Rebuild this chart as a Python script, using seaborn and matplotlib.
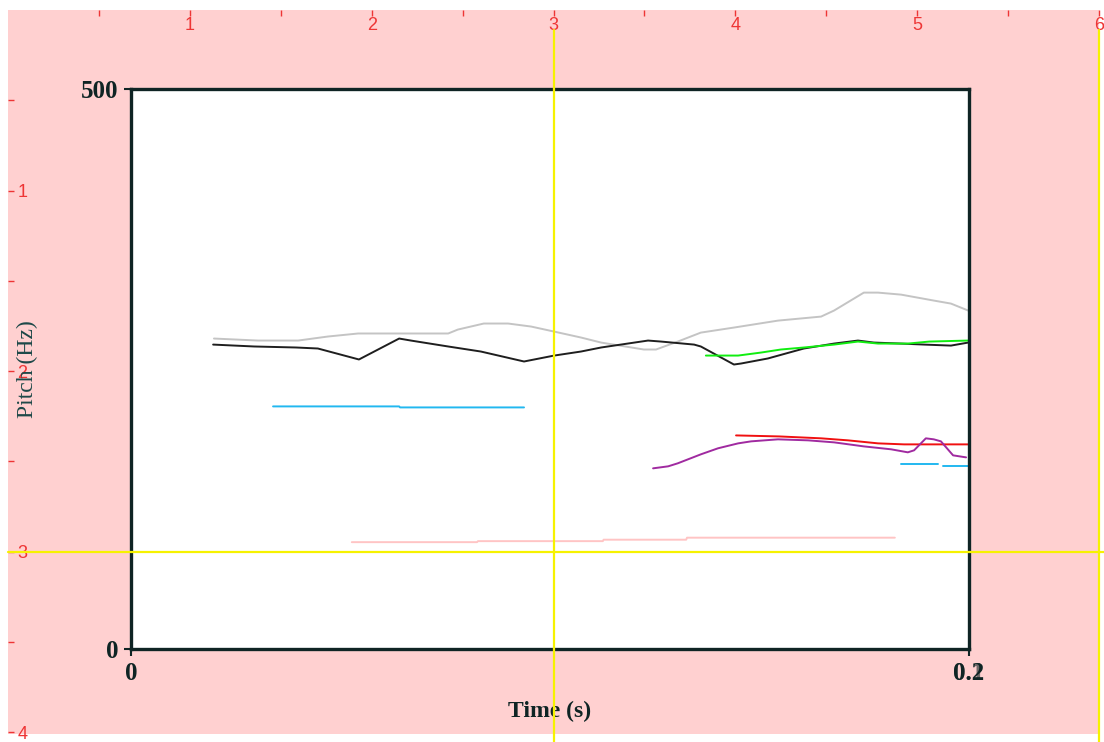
import numpy as np
import pandas as pd
import matplotlib
matplotlib.use("Agg")
import matplotlib.pyplot as plt
from matplotlib.lines import Line2D
import seaborn as sns

# ---------------- data ----------------
gray_t = [0.0198, 0.0303, 0.0399, 0.0470, 0.0542, 0.0757, 0.0780, 0.0842, 0.0900, 0.0955,
          0.1010, 0.1074, 0.1122, 0.1224, 0.1253, 0.1305, 0.1360, 0.1439, 0.1544, 0.1647,
          0.1678, 0.1749, 0.1783, 0.1838, 0.1916, 0.1957, 0.1998]
gray_hz = [277.2, 275.4, 275.4, 279.0, 281.7, 281.7, 285.2, 290.6, 290.6, 287.9,
           283.4, 278.1, 273.6, 267.4, 267.4, 274.5, 282.5, 287.0, 293.2, 296.8,
           302.2, 318.2, 318.2, 316.4, 311.1, 308.4, 302.2]

black_t = [0.0196, 0.0294, 0.0394, 0.0446, 0.0544, 0.0640, 0.0668, 0.0757, 0.0835, 0.0938,
           0.1010, 0.1074, 0.1122, 0.1234, 0.1265, 0.1344, 0.1360, 0.1439, 0.1456, 0.1520,
           0.1606, 0.1678, 0.1735, 0.1773, 0.1838, 0.1893, 0.1957, 0.1998]
black_hz = [271.8, 270.1, 269.2, 268.3, 258.5, 277.2, 275.4, 270.1, 265.6, 256.7,
            262.0, 265.6, 269.2, 275.4, 274.5, 271.8, 270.1, 254.0, 254.9, 259.4,
            268.3, 272.7, 275.4, 273.6, 272.7, 271.8, 270.9, 273.6]

green_t = [0.1372, 0.1449, 0.1504, 0.1551, 0.1606, 0.1678, 0.1735, 0.1783, 0.1854, 0.1905, 0.1998]
green_hz = [262.0, 262.0, 264.7, 267.4, 269.2, 271.8, 274.5, 272.7, 272.7, 274.5, 275.4]

red_t = [0.1444, 0.1547, 0.1647, 0.1711, 0.1783, 0.1845, 0.1998]
red_hz = [190.7, 189.8, 188.1, 186.3, 183.6, 182.7, 182.7]

purple_t = [0.1246, 0.1282, 0.1305, 0.1360, 0.1401, 0.1449, 0.1480, 0.1544, 0.1616, 0.1678,
            0.1749, 0.1814, 0.1854, 0.1869, 0.1897, 0.1916, 0.1933, 0.1962, 0.1993]
purple_hz = [161.3, 163.1, 165.8, 173.8, 179.2, 183.6, 185.4, 187.2, 186.3, 184.5,
             180.9, 178.3, 175.6, 177.4, 188.1, 187.2, 185.4, 172.9, 171.1]

cyan1_t = [0.0339, 0.0640, 0.0642, 0.0938]
cyan1_hz = [216.6, 216.6, 215.7, 215.7]
cyan2_t = [0.1838, 0.1926]
cyan2_hz = [164.9, 164.9]
cyan3_t = [0.1938, 0.1998]
cyan3_hz = [163.1, 163.1]

pink_t = [0.0527, 0.0826, 0.0828, 0.1126, 0.1128, 0.1325, 0.1327, 0.1823]
pink_hz = [95.4, 95.4, 96.3, 96.3, 97.6, 97.6, 99.4, 99.4]

x_ticks = [0, 0.2]
x_ticklabels = ["0", "0.2"]
y_ticks = [0, 500]
y_ticklabels = ["0", "500"]

ruler_x_major = [1, 2, 3, 4, 5, 6]
ruler_x_minor = [0.5, 1.5, 2.5, 3.5, 4.5, 5.5]
ruler_y_major = [1, 2, 3, 4]
ruler_y_minor = [0.5, 1.5, 2.5, 3.5]
cross_x = [3, 6]
cross_y = 3

tracks = {
    "gray": (gray_t, gray_hz), "black": (black_t, black_hz), "green": (green_t, green_hz),
    "red": (red_t, red_hz), "purple": (purple_t, purple_hz), "cyan1": (cyan1_t, cyan1_hz),
    "cyan2": (cyan2_t, cyan2_hz), "cyan3": (cyan3_t, cyan3_hz), "pink": (pink_t, pink_hz),
}
palette = {"gray": "#c4c4c4", "black": "#1e1e1e", "green": "#10ee10", "red": "#f01010",
           "purple": "#a02aa0", "cyan1": "#22b8f0", "cyan2": "#22b8f0", "cyan3": "#22b8f0",
           "pink": "#ffc4c4"}

rows = []
for name, (ts, hs) in tracks.items():
    for t, h in zip(ts, hs):
        rows.append({"track": name, "t": t, "hz": h})
df = pd.DataFrame(rows)

# ---------------- style ----------------
sns.set_style("white")
plt.rcParams["font.family"] = ["Liberation Serif", "DejaVu Serif"]

W, H = 1104, 742
fig = plt.figure(figsize=(W / 100, H / 100), dpi=100)
fig.patch.set_facecolor("white")

RED = "#ee3535"
DARK = "#0f2424"

# background "ruler" axes
bg_l, bg_r, bg_t, bg_b = 8, 1099, 10, 734
ax_bg = fig.add_axes([bg_l / W, (H - bg_b) / H, (bg_r - bg_l) / W, (bg_b - bg_t) / H])
ax_bg.set_facecolor("#ffd0d0")
ax_bg.set_xlim(0, 6.0)
ax_bg.set_ylim(4.01, 0)
for s in ax_bg.spines.values():
    s.set_visible(False)
ax_bg.set_xticks(ruler_x_major)
ax_bg.set_xticks(ruler_x_minor, minor=True)
ax_bg.set_yticks(ruler_y_major)
ax_bg.set_yticks(ruler_y_minor, minor=True)
ax_bg.set_xticklabels([str(v) for v in ruler_x_major], fontfamily="Liberation Sans", fontsize=13)
ax_bg.set_yticklabels([str(v) for v in ruler_y_major], fontfamily="Liberation Sans", fontsize=13)
ax_bg.tick_params(axis="x", which="both", top=True, bottom=False, labeltop=True, labelbottom=False,
                  direction="in", length=4, width=1, color=RED, labelcolor=RED, pad=-17)
ax_bg.tick_params(axis="y", which="both", left=True, right=False, labelleft=True,
                  direction="in", length=4, width=1, color=RED, labelcolor=RED, pad=-14)
for lab in ax_bg.get_yticklabels():
    lab.set_horizontalalignment("right")

# main pitch axes
p_l, p_r, p_t, p_b = 131, 969, 89, 649
ax = fig.add_axes([p_l / W, (H - p_b) / H, (p_r - p_l) / W, (p_b - p_t) / H])
ax.set_facecolor("white")

sns.lineplot(data=df, x="t", y="hz", hue="track", palette=palette,
             estimator=None, sort=False, legend=False, linewidth=1.4, ax=ax)

ax.set_xlim(0, 0.2)
ax.set_ylim(0, 500)
for s in ax.spines.values():
    s.set_visible(True)
    s.set_linewidth(2.4)
    s.set_color(DARK)
ax.set_xticks(x_ticks)
ax.set_xticklabels(x_ticklabels, fontsize=18, fontweight="bold", color=DARK)
ax.set_yticks(y_ticks)
ax.set_yticklabels(y_ticklabels, fontsize=18, fontweight="bold", color=DARK)
ax.tick_params(axis="both", which="major", direction="out", length=5, width=1.5, color=DARK,
               bottom=True, left=True, top=False, right=False, pad=4)
ax.annotate("0.1", xy=(0.2, 0), xycoords="data", xytext=(0, -9), textcoords="offset points",
            ha="center", va="top", fontsize=18, fontweight="bold", color=DARK, alpha=0.6,
            annotation_clip=False)
ax.set_xlabel("Time (s)", fontsize=17, fontweight="bold", color=DARK, labelpad=12)
ax.set_ylabel("Pitch (Hz)", fontsize=17, color="#1d4848")
ax.yaxis.set_label_coords(-0.111, 0.5)

# yellow cross-hair lines (ruler coordinates)
for cx in cross_x:
    fig.add_artist(Line2D([cx, cx], [0.11, 4.2], transform=ax_bg.transData, color="#f6f200",
                          linewidth=1.6, clip_on=False, zorder=20))
fig.add_artist(Line2D([0, 6.2], [cross_y, cross_y], transform=ax_bg.transData, color="#f6f200",
                      linewidth=1.6, clip_on=False, zorder=20))

fig.savefig("out.png", dpi=100, facecolor="white")
